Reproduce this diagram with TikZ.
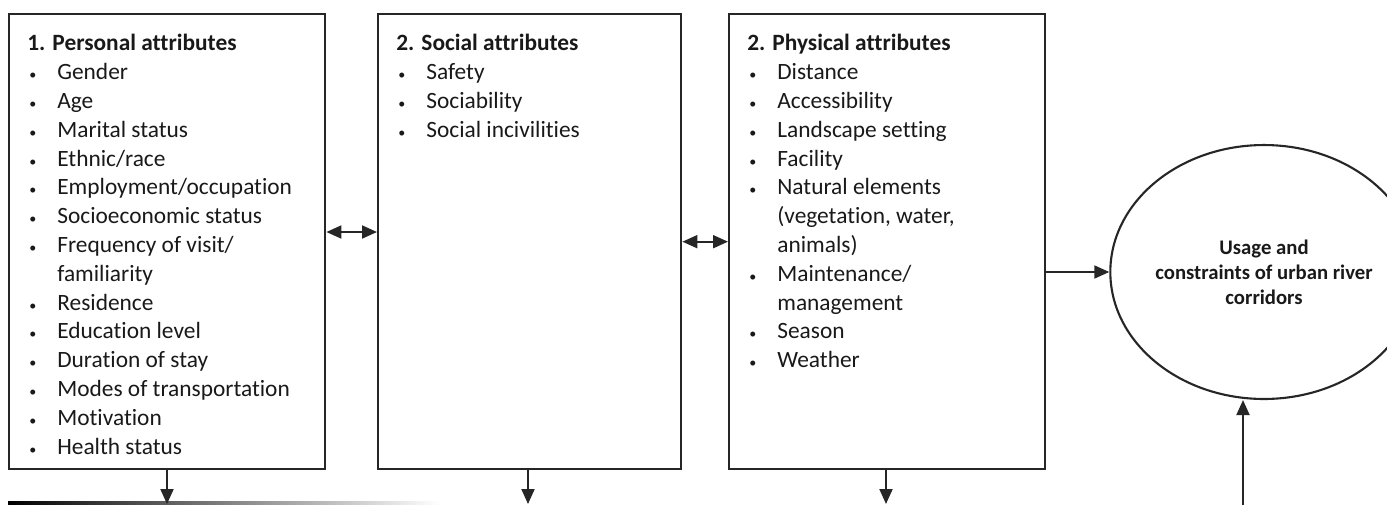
\documentclass[tikz,border=0pt]{standalone}
\usepackage{fontspec}
\setmainfont{Carlito}[Ligatures=NoCommon]
\usetikzlibrary{arrows.meta}
\usetikzlibrary{shapes.geometric}
\usetikzlibrary{positioning}
\tikzstyle{attrbox}=[draw=black!85, line width=1.4pt, shape=rectangle, anchor=north west, minimum height=9.1cm, inner sep=0pt]
\tikzstyle{attrtext}=[black!90, anchor=north west, align=left, inner sep=0pt, font=\fontsize{13.3}{16.4}\selectfont]
\tikzstyle{outcome}=[black!90, draw=black!85, line width=1.2pt, shape=ellipse, minimum width=4.88cm, minimum height=5.08cm, inner sep=0pt, align=center, font=\bfseries\fontsize{11.8}{14.2}\selectfont]
\tikzstyle{link}=[line width=1.1pt, color=black!85, -{Triangle[length=0.3cm, width=0.26cm]}]
\tikzstyle{bilink}=[link, {Triangle[length=0.3cm, width=0.26cm]}-{Triangle[length=0.3cm, width=0.26cm]}]
\newcommand{\itm}{\makebox[0.6cm][l]{\hspace{0.04cm}{\footnotesize\textbullet}}}
\newcommand{\cnt}{\hspace{0.6cm}}

\begin{document}
\begin{tikzpicture}[x=0.02cm, y=-0.02cm]
\useasboundingbox (0,0) rectangle (1387,505);

\node [attrbox, minimum width=6.32cm] (personal) at (8,13) {};
\node [attrbox, minimum width=6.06cm] (social) at (377,13) {};
\node [attrbox, minimum width=6.32cm] (physical) at (728,13) {};
\node [outcome] (usage) at (1264,272) {Usage and\\constraints of urban river\\corridors};

\node [attrtext] (personaltxt) at (27,34) {\textbf{1. Personal attributes}\\
\itm Gender\\
\itm Age\\
\itm Marital status\\
\itm Ethnic/race\\
\itm Employment/occupation\\
\itm Socioeconomic status\\
\itm Frequency of visit/\\
\cnt familiarity\\
\itm Residence\\
\itm Education level\\
\itm Duration of stay\\
\itm Modes of transportation\\
\itm Motivation\\
\itm Health status};
\node [attrtext] (socialtxt) at (396,34) {\textbf{2. Social attributes}\\
\itm Safety\\
\itm Sociability\\
\itm Social incivilities};
\node [attrtext] (physicaltxt) at (747,34) {\textbf{2. Physical attributes}\\
\itm Distance\\
\itm Accessibility\\
\itm Landscape setting\\
\itm Facility\\
\itm Natural elements\\
\cnt (vegetation, water,\\
\cnt animals)\\
\itm Maintenance/\\
\cnt management\\
\itm Season\\
\itm Weather};

% loose ends at the lower edge
\coordinate (down1) at (167,504);
\coordinate (down2) at (528,504);
\coordinate (down3) at (886,504);
\coordinate (up4) at (1243,505);
\shade [left color=black, right color=white] (8,501.5) rectangle (440,504.5);

\draw[bilink] (personal.east |- 0,232) -- (social.west |- 0,232);
\draw[bilink] (social.east) -- (physical.west);
\draw[link] (usage.west -| physical.east) -- (usage.west);
\draw[link] (personal.south -| down1) -- (down1);
\draw[link] (social.south -| down2) -- (down2);
\draw[link] (physical.south -| down3) -- (down3);
\draw[link] (up4) -- (up4 |- usage.south);
\end{tikzpicture}
\end{document}
